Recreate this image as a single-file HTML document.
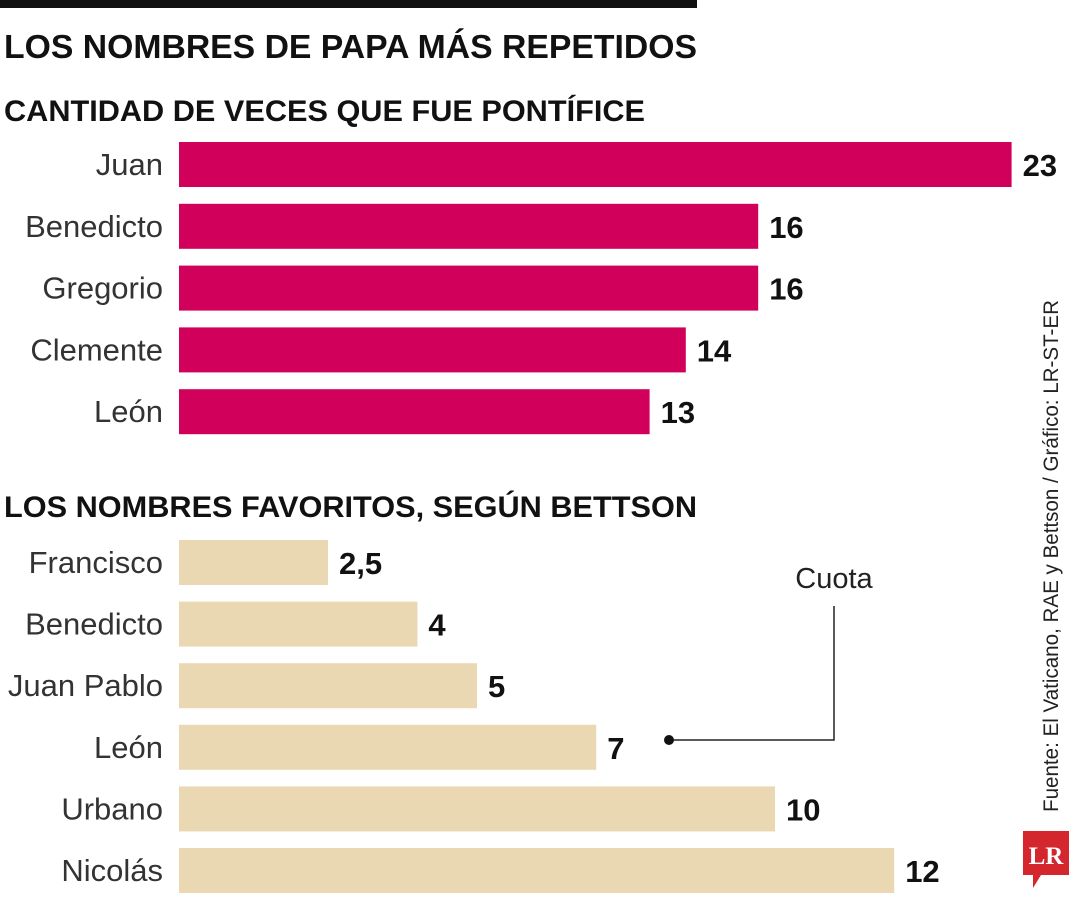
<!DOCTYPE html>
<html><head><meta charset="utf-8"><style>
body{margin:0;background:#fff;width:1080px;height:900px;overflow:hidden}
svg{display:block}
text{font-family:"Liberation Sans Narrow","Liberation Sans",sans-serif}
</style></head><body>
<svg id="c" width="1080" height="900">
<rect x="0" y="0" width="697" height="8" fill="#111"/>
<text x="4" y="58" font-size="33" font-weight="bold" fill="#111" textLength="693" lengthAdjust="spacingAndGlyphs">LOS NOMBRES DE PAPA MÁS REPETIDOS</text>
<text x="4" y="121" font-size="30" font-weight="bold" fill="#111" textLength="641" lengthAdjust="spacingAndGlyphs">CANTIDAD DE VECES QUE FUE PONTÍFICE</text>
<text x="4" y="517" font-size="30" font-weight="bold" fill="#111" textLength="693" lengthAdjust="spacingAndGlyphs">LOS NOMBRES FAVORITOS, SEGÚN BETTSON</text>
<text x="834" y="588" font-size="29" text-anchor="middle" fill="#222">Cuota</text>
<polyline points="834,606 834,740 669,740" fill="none" stroke="#222" stroke-width="1.5"/>
<circle cx="669" cy="740" r="5" fill="#111"/>
<text transform="translate(1058,812) rotate(-90)" font-size="21" fill="#222" textLength="512" lengthAdjust="spacingAndGlyphs">Fuente: El Vaticano, RAE y Bettson / Gráfico: LR-ST-ER</text>
<g>
<path d="M1023,831 H1069 V875 H1041 L1033,888 V875 H1023 Z" fill="#d3262d"/>
<text x="1046" y="864" style="font-family:'Liberation Serif',serif" font-size="25" font-weight="bold" fill="#fff" text-anchor="middle">LR</text>
</g>
<g id="top"></g><g id="bot"></g>
</svg>
<script>
const topCats=["Juan","Benedicto","Gregorio","Clemente","León"];
const topVals=[23,16,16,14,13];
const botCats=["Francisco","Benedicto","Juan Pablo","León","Urbano","Nicolás"];
const botVals=[2.5,4,5,7,10,12];
const NS="http://www.w3.org/2000/svg";
function mk(t,a,p){const e=document.createElementNS(NS,t);for(const k in a)e.setAttribute(k,a[k]);p.appendChild(e);return e;}
function draw(g,cats,vals,y0,pitch,scale,color,fmt){
  const x=v=>179+v*scale;
  cats.forEach((c,i)=>{
    const y=y0+i*pitch;
    const r=mk('rect',{x:179,y:y,width:x(vals[i])-179,height:45,fill:color},g);
    
    
    const l=mk('text',{x:163,y:y+33,'font-size':31,'text-anchor':'end',fill:'#333'},g);
    l.textContent=c;
    
    
    const v=mk('text',{x:x(vals[i])+11,y:y+34,'font-size':31,'font-weight':'bold',fill:'#111'},g);
    v.textContent=fmt(vals[i]);
    
    
  });
}
const f=v=>String(v).replace('.',',');
draw(document.getElementById('top'),topCats,topVals,142,61.8,36.2,'#d1005a',f);
draw(document.getElementById('bot'),botCats,botVals,540,61.6,59.6,'#e9d8b2',f);
</script>
</body></html>
